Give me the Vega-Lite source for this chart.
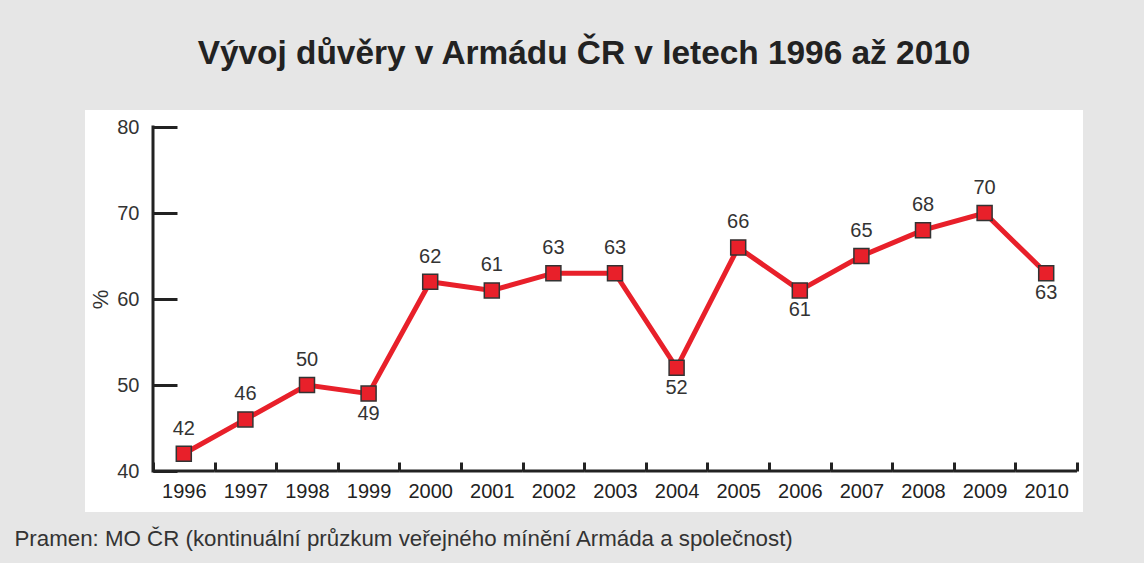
{
  "$schema": "https://vega.github.io/schema/vega-lite/v6.json",
  "width": 998,
  "height": 402,
  "autosize": {"type": "none"},
  "padding": {"left": 85, "top": 110, "right": 61, "bottom": 51},
  "background": "#e6e6e6",
  "view": {"fill": "#ffffff", "stroke": null},
  "title": {
    "text": "Vývoj důvěry v Armádu ČR v letech 1996 až 2010",
    "font": "Liberation Sans",
    "fontSize": 33.4,
    "fontWeight": "bold",
    "color": "#222222",
    "anchor": "middle",
    "frame": "group",
    "baseline": "alphabetic",
    "offset": 13
  },
  "data": {
    "values": [
      {"year": "1996", "value": 42},
      {"year": "1997", "value": 46},
      {"year": "1998", "value": 50},
      {"year": "1999", "value": 49},
      {"year": "2000", "value": 62},
      {"year": "2001", "value": 61},
      {"year": "2002", "value": 63},
      {"year": "2003", "value": 63},
      {"year": "2004", "value": 52},
      {"year": "2005", "value": 66},
      {"year": "2006", "value": 61},
      {"year": "2007", "value": 65},
      {"year": "2008", "value": 68},
      {"year": "2009", "value": 70},
      {"year": "2010", "value": 63}
    ]
  },
  "layer": [
    {
      "mark": {"type": "rect", "fill": "transparent", "stroke": "#222222", "strokeWidth": 3},
      "encoding": {
        "x": {"field": "year", "type": "ordinal"},
        "y": {"datum": 40, "type": "quantitative"},
        "y2": {"datum": 40}
      }
    },
    {
      "transform": [{"filter": "datum.year == '1996'"}],
      "mark": {"type": "rule", "color": "#222222", "strokeWidth": 3, "strokeCap": "square"},
      "encoding": {
        "x": {"field": "year", "type": "ordinal", "bandPosition": 0},
        "y": {"datum": 40, "type": "quantitative"},
        "y2": {"datum": 80}
      }
    },
    {
      "mark": {"type": "line", "color": "#e8202a", "strokeWidth": 5},
      "encoding": {
        "x": {
          "field": "year",
          "type": "ordinal",
          "scale": {"type": "band", "paddingInner": 0, "paddingOuter": 0.6006, "align": 0.919},
          "axis": {
            "title": "Pramen: MO ČR (kontinuální průzkum veřejného mínění Armáda a společnost)",
            "titleFont": "Liberation Sans",
            "titleFontSize": 22.3,
            "titleFontWeight": "normal",
            "titleColor": "#333333",
            "titleAnchor": "start",
            "titleAlign": "left",
            "titleBaseline": "alphabetic",
            "titleX": -71,
            "titleY": 74,
            "labelAngle": 0,
            "labelAlign": "center",
            "labelFont": "Liberation Sans",
            "labelFontSize": 20,
            "labelColor": "#222222",
            "labelPadding": 29,
            "domain": false,
            "ticks": true,
            "tickBand": "extent",
            "tickSize": -9,
            "tickWidth": 3,
            "tickColor": "#222222",
            "offset": -41,
            "grid": false
          }
        },
        "y": {
          "field": "value",
          "type": "quantitative",
          "scale": {"domain": [35.233, 81.977], "nice": false, "zero": false},
          "axis": {
            "title": "%",
            "titleFont": "Liberation Sans",
            "titleFontSize": 22,
            "titleFontWeight": "normal",
            "titleColor": "#333333",
            "titleY": 189,
            "values": [40, 50, 60, 70, 80],
            "labelFont": "Liberation Sans",
            "labelFontSize": 20,
            "labelColor": "#333333",
            "labelPadding": 38,
            "domain": false,
            "tickSize": -24,
            "tickWidth": 3,
            "tickColor": "#222222",
            "offset": -68,
            "grid": false
          }
        }
      }
    },
    {
      "mark": {"type": "point", "shape": "square", "filled": true, "size": 225, "fill": "#e8202a", "stroke": "#333333", "strokeWidth": 1.5, "opacity": 1},
      "encoding": {
        "x": {"field": "year", "type": "ordinal"},
        "y": {"field": "value", "type": "quantitative"}
      }
    },
    {
      "transform": [{"filter": {"not": {"field": "year", "oneOf": ["1999", "2004", "2006", "2010"]}}}],
      "mark": {"type": "text", "baseline": "alphabetic", "dy": -19, "font": "Liberation Sans", "fontSize": 20, "color": "#333333"},
      "encoding": {
        "x": {"field": "year", "type": "ordinal"},
        "y": {"field": "value", "type": "quantitative"},
        "text": {"field": "value", "type": "quantitative"}
      }
    },
    {
      "transform": [{"filter": {"field": "year", "oneOf": ["1999", "2004", "2006", "2010"]}}],
      "mark": {"type": "text", "baseline": "alphabetic", "dy": 26, "font": "Liberation Sans", "fontSize": 20, "color": "#333333"},
      "encoding": {
        "x": {"field": "year", "type": "ordinal"},
        "y": {"field": "value", "type": "quantitative"},
        "text": {"field": "value", "type": "quantitative"}
      }
    }
  ]
}
